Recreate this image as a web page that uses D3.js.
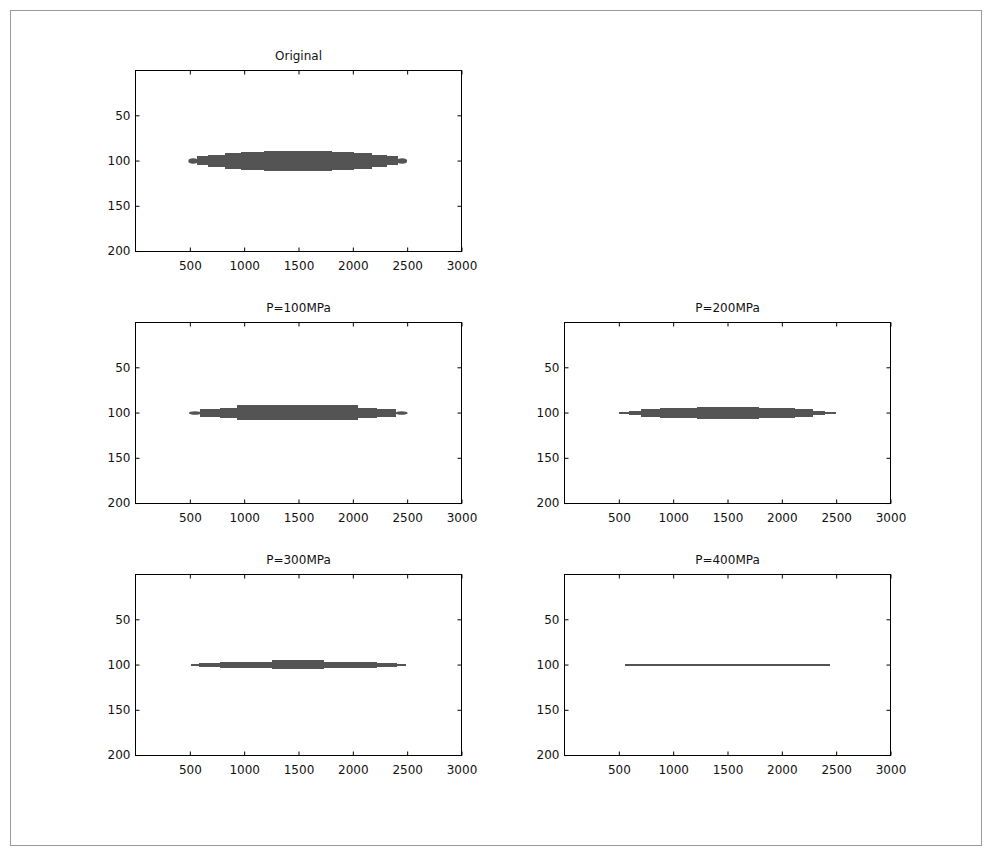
<!DOCTYPE html>
<html>
<head>
<meta charset="utf-8">
<script src="https://cdn.jsdelivr.net/npm/d3@7"></script>
<style>
  body { margin: 0; background: #fff; }
  text { font-family: "DejaVu Sans", Verdana, sans-serif; }
</style>
</head>
<body>
<div id="chart"></div>
<script>
///////////////////////////// DATA /////////////////////////////////////

// panel titles, in drawing order (row 1 right is empty)
titles = ["Original", "P=100MPa", "P=200MPa", "P=300MPa", "P=400MPa"];

// x tick + y tick values
xTicks = [500, 1000, 1500, 2000, 2500, 3000];
yTicks = [50, 100, 150, 200];

// layer centre (image row)
centreRow = 101;

// step edges along x and thickness (rows) of each step
originalEdges = [500, 570, 670, 830, 980, 1190, 1815, 2015, 2180, 2315, 2420, 2495];
originalThick = [6, 10, 13, 17, 19, 22, 19, 17, 13, 10, 6];

p100Edges = [505, 600, 780, 935, 2055, 2225, 2405, 2500];
p100Thick = [4, 8, 11, 16.5, 11, 8, 4];

p200Edges = [503, 595, 710, 885, 1225, 1790, 2125, 2290, 2400, 2503];
p200Thick = [2, 4.5, 8, 11, 14, 11, 8, 4.5, 2];

p300Edges = [513, 592, 782, 1258, 1739, 2224, 2408, 2494];
p300Thick = [2, 3.5, 6.5, 10, 6.5, 3.5, 2];

p400Edges = [561, 2448];
p400Thick = [2.5];

///////////////////////////// LAYOUT /////////////////////////////////////

width = 994;
height = 850;
boxW = 326;
boxH = 181;
colX = [135, 564];
rowY = [70, 322, 574];
fillColor = "#545454";

panels = [
    { title: titles[0], edges: originalEdges, thick: originalThick, col: 0, row: 0 },
    { title: titles[1], edges: p100Edges, thick: p100Thick, col: 0, row: 1 },
    { title: titles[2], edges: p200Edges, thick: p200Thick, col: 1, row: 1 },
    { title: titles[3], edges: p300Edges, thick: p300Thick, col: 0, row: 2 },
    { title: titles[4], edges: p400Edges, thick: p400Thick, col: 1, row: 2 }
];

svg = d3.select("#chart").append("svg")
    .attr("width", width)
    .attr("height", height);

// outer frame
svg.append("rect")
    .attr("x", 10.5)
    .attr("y", 10.5)
    .attr("width", 971)
    .attr("height", 835)
    .attr("fill", "#fff")
    .attr("stroke", "#999")
    .attr("stroke-width", 1);

xScale = d3.scaleLinear().domain([0, 3000]).range([0, boxW]);
yScale = d3.scaleLinear().domain([0.5, 200.5]).range([0, boxH]);

panels.forEach(function(p, i) {
    g = svg.append("g")
        .attr("transform", `translate(${colX[p.col] + 0.5}, ${rowY[p.row] + 0.5})`);

    g.append("clipPath")
        .attr("id", "clip" + i)
        .append("rect")
        .attr("width", boxW)
        .attr("height", boxH);

    // steps of the layer
    segs = p.thick.map(function(t, k) {
        return { x0: p.edges[k], x1: p.edges[k + 1], t: t, tip: (k == 0 || k == p.thick.length - 1) && t >= 4 };
    });

    layer = g.append("g")
        .attr("clip-path", `url(#clip${i})`);

    // body of the layer, crisp so steps join without seams
    layer.selectAll("rect.step")
        .data(segs.filter(d => !d.tip)).enter()
        .append("rect")
        .attr("class", "step")
        .attr("x", d => xScale(d.x0) - 0.5)
        .attr("width", d => xScale(d.x1) - xScale(d.x0))
        .attr("y", d => yScale(centreRow - d.t / 2) - 0.5)
        .attr("height", d => yScale(d.t) - yScale(0))
        .attr("shape-rendering", "crispEdges")
        .attr("fill", fillColor);

    // rounded tips
    layer.selectAll("ellipse.tip")
        .data(segs.filter(d => d.tip)).enter()
        .append("ellipse")
        .attr("class", "tip")
        .attr("cx", d => (xScale(d.x0) + xScale(d.x1)) / 2 - 0.5)
        .attr("rx", d => (xScale(d.x1) - xScale(d.x0)) / 2 + 1)
        .attr("cy", yScale(centreRow) - 0.5)
        .attr("ry", d => (yScale(d.t) - yScale(0)) / 2)
        .attr("fill", fillColor);

    // axes (ticks point inwards on all four sides)
    xb = g.append("g")
        .attr("transform", `translate(0, ${boxH})`)
        .call(d3.axisBottom(xScale).tickValues(xTicks).tickFormat(d3.format("d")).tickSizeInner(-4).tickSizeOuter(0).tickPadding(10));
    xt = g.append("g")
        .call(d3.axisTop(xScale).tickValues(xTicks).tickSizeInner(-4).tickSizeOuter(0).tickFormat(""));
    yl = g.append("g")
        .call(d3.axisLeft(yScale).tickValues(yTicks).tickFormat(d3.format("d")).tickSizeInner(-4).tickSizeOuter(0).tickPadding(5));
    yr = g.append("g")
        .attr("transform", `translate(${boxW}, 0)`)
        .call(d3.axisRight(yScale).tickValues(yTicks).tickSizeInner(-4).tickSizeOuter(0).tickFormat(""));

    [xb, xt, yl, yr].forEach(function(a) {
        a.select(".domain").remove();
        a.selectAll("text")
            .attr("font-size", "12px")
            .attr("font-family", "DejaVu Sans, Verdana, sans-serif")
            .attr("fill", "#111");
        a.selectAll("line").attr("stroke", "#000");
    });

    g.append("rect")
        .attr("width", boxW)
        .attr("height", boxH)
        .attr("fill", "none")
        .attr("stroke", "#000")
        .attr("stroke-width", 1);

    g.append("text")
        .attr("x", boxW / 2)
        .attr("y", -11)
        .attr("text-anchor", "middle")
        .attr("font-size", "12px")
        .attr("fill", "#111")
        .text(p.title);
});
</script>
</body>
</html>
